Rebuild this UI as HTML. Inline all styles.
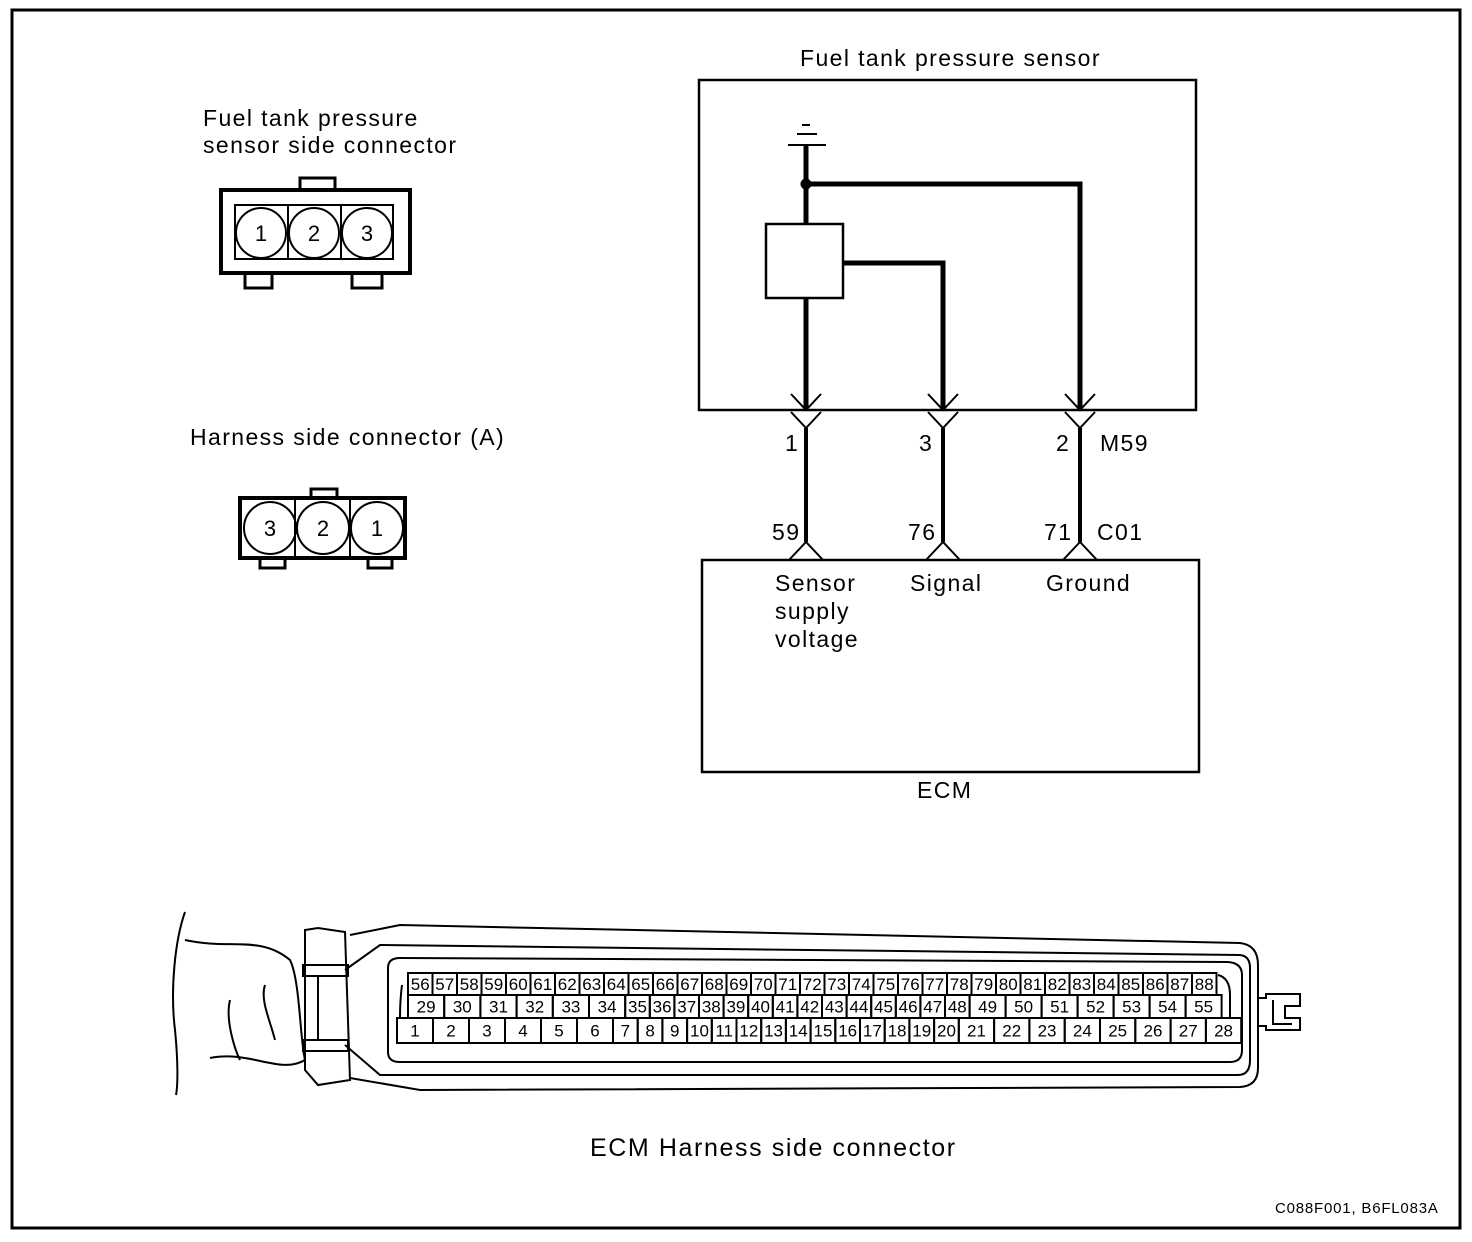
<!DOCTYPE html>
<html><head><meta charset="utf-8"><style>
html,body{margin:0;padding:0;background:#fff}
svg{display:block}
text{font-family:"Liberation Sans",Arial,sans-serif;fill:#000}
.w{letter-spacing:1.4px}
</style></head><body>
<svg width="1472" height="1242" viewBox="0 0 1472 1242" xmlns="http://www.w3.org/2000/svg">
<rect x="12" y="10" width="1448" height="1218" fill="none" stroke="#000" stroke-width="3"/>

<g font-size="23" class="w">
<text x="203" y="126">Fuel tank pressure</text>
<text x="203" y="153">sensor side connector</text>
<text x="190" y="445">Harness side connector (A)</text>
<text x="800" y="66">Fuel tank pressure sensor</text>
</g>

<g fill="none" stroke="#000" stroke-width="3">
<path d="M300 190 V178 H335 V190"/>
<rect x="221" y="190" width="189" height="83" stroke-width="4"/>
<rect x="235" y="205" width="158" height="54" stroke-width="2"/>
<path d="M288 205V259M341 205V259" stroke-width="2"/>
<circle cx="261" cy="233" r="25" stroke-width="2"/>
<circle cx="314" cy="233" r="25" stroke-width="2"/>
<circle cx="367" cy="233" r="25" stroke-width="2"/>
<path d="M245 273V288H272V273M352 273V288H382V273"/>
</g>
<g font-size="22" text-anchor="middle"><text x="261" y="241">1</text><text x="314" y="241">2</text><text x="367" y="241">3</text></g>

<g fill="none" stroke="#000" stroke-width="3">
<path d="M311 498V489H337V498"/>
<rect x="240" y="498" width="165" height="60" stroke-width="4"/>
<path d="M295 498V558M350 498V558" stroke-width="2"/>
<circle cx="270" cy="528" r="26" stroke-width="2"/>
<circle cx="323" cy="528" r="26" stroke-width="2"/>
<circle cx="377" cy="528" r="26" stroke-width="2"/>
<path d="M260 558V568H285V558M368 558V568H392V558"/>
</g>
<g font-size="22" text-anchor="middle"><text x="270" y="536">3</text><text x="323" y="536">2</text><text x="377" y="536">1</text></g>

<rect x="699" y="80" width="497" height="330" fill="none" stroke="#000" stroke-width="2.5"/>
<g stroke="#000" fill="none">
<path d="M802 125H810M797 134H817M788 145H826" stroke-width="2"/>
<path d="M806 145V224M806 298V410M806 184H1080V410M843 263H943V410" stroke-width="5"/>
<circle cx="806" cy="184" r="5" fill="#000"/>
<rect x="766" y="224" width="77" height="74" stroke-width="2.5" fill="#fff"/>
<g stroke-width="2">
<path d="M791 394L806 410L821 394M928 394L943 410L958 394M1065 394L1080 410L1095 394"/>
<path d="M791 412L806 428L821 412M928 412L943 428L958 412M1065 412L1080 428L1095 412"/>
<path d="M789 560L806 542L823 560M926 560L943 542L960 560M1063 560L1080 542L1097 560"/>
</g>
<path d="M806 428V542M943 428V542M1080 428V542" stroke-width="4"/>
</g>
<rect x="702" y="560" width="497" height="212" fill="none" stroke="#000" stroke-width="2.5"/>
<g font-size="23" class="w">
<text x="785" y="451">1</text><text x="919" y="451">3</text><text x="1056" y="451">2</text><text x="1100" y="451">M59</text>
<text x="772" y="540">59</text><text x="908" y="540">76</text><text x="1044" y="540">71</text><text x="1097" y="540">C01</text>
<text x="775" y="591">Sensor</text><text x="775" y="619">supply</text><text x="775" y="647">voltage</text>
<text x="910" y="591">Signal</text><text x="1046" y="591">Ground</text>
<text x="917" y="798">ECM</text>
</g>
<text x="590" y="1156" font-size="25" style="letter-spacing:1.6px">ECM Harness side connector</text>
<text x="1275" y="1213" font-size="15" style="letter-spacing:0.8px">C088F001, B6FL083A</text>

<g fill="none" stroke="#000" stroke-width="2">
<path d="M185 912C175 940 170 990 175 1030C178 1060 178 1085 176 1095"/>
<path d="M185 940C230 950 260 935 290 960C300 980 300 1040 305 1060C280 1075 250 1050 210 1058"/>
<path d="M230 1000C225 1020 235 1050 240 1060M265 985C260 1000 270 1020 275 1040"/>
<path d="M305 930L318 928L345 932L350 1080L318 1085L305 1070Z"/>
<rect x="303" y="965" width="45" height="11"/>
<rect x="303" y="1040" width="45" height="11"/>
<path d="M318 976V1040"/>
<path d="M350 935L400 925L1240 943Q1258 945 1258 965V1068Q1258 1086 1240 1087L420 1090L350 1078"/>
<path d="M345 970L380 945L1240 955Q1250 956 1250 968V1060Q1250 1075 1238 1075L380 1075L345 1045"/>
<path d="M388 968Q388 958 400 958L1228 962Q1242 963 1242 975V1050Q1242 1062 1230 1062L400 1062Q388 1062 388 1052Z"/>
<path d="M1258 998H1266V994H1300V1006H1285V1018H1300V1030H1266V1026H1258"/>
<path d="M1273 1000V1024H1292"/>
<path d="M402 985Q400 1000 400 1018M1218 975Q1230 978 1230 995V1018"/>
</g>
<g stroke="#000" stroke-width="2" fill="none" id="grid"></g>
<g font-size="17" text-anchor="middle" id="lbl"></g>
<script>
(function(){
var ns="http://www.w3.org/2000/svg",g=document.getElementById('grid'),l=document.getElementById('lbl');
function cell(x,y,w,h,t){var r=document.createElementNS(ns,'rect');r.setAttribute('x',x);r.setAttribute('y',y);r.setAttribute('width',w);r.setAttribute('height',h);g.appendChild(r);
var tx=document.createElementNS(ns,'text');tx.setAttribute('x',x+w/2);tx.setAttribute('y',y+h/2+6);tx.textContent=t;l.appendChild(tx);}
var i,x;
x=408;for(i=56;i<=88;i++){cell(x,973,24.5,22,i);x+=24.5;}
x=408;for(i=29;i<=34;i++){cell(x,995,36.2,23,i);x+=36.2;}
for(i=35;i<=48;i++){cell(x,995,24.6,23,i);x+=24.6;}
for(i=49;i<=55;i++){cell(x,995,36,23,i);x+=36;}
x=397;for(i=1;i<=6;i++){cell(x,1018,36,25,i);x+=36;}
for(i=7;i<=20;i++){cell(x,1018,24.7,25,i);x+=24.7;}
for(i=21;i<=28;i++){cell(x,1018,35.3,25,i);x+=35.3;}
})();
</script>
</svg>
</body></html>
